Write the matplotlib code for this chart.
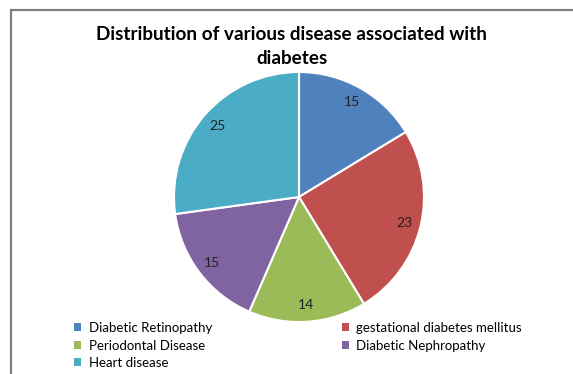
import matplotlib.pyplot as plt
from matplotlib.patches import Patch, Rectangle

# данные
labels = ['Diabetic Retinopathy', 'gestational diabetes mellitus', 'Periodontal Disease',
          'Diabetic Nephropathy', 'Heart disease']
values = [15, 23, 14, 15, 25]
colors = ['#4F81BD', '#C0504D', '#9BBB59', '#8064A2', '#4BACC6']

plt.rcParams['font.family'] = ['Lato', 'DejaVu Sans']

W, H = 573, 374
fig = plt.figure(figsize=(W / 100, H / 100), dpi=100)

# рамка
fig.patches.append(Rectangle((11 / W, -0.1), 1.1, 1 - 10 / H + 0.1, transform=fig.transFigure,
                             fill=False, edgecolor='#7f7f7f', linewidth=1.6))

# круговая диаграмма
cx, cy, r = 299, 197, 125
ax = fig.add_axes([(cx - r) / W, (H - cy - r) / H, 2 * r / W, 2 * r / H])
wedges, texts = ax.pie(values, colors=colors, startangle=90, counterclock=False,
                       labels=[str(v) for v in values], labeldistance=0.87,
                       wedgeprops={'edgecolor': 'white', 'linewidth': 1.5},
                       textprops={'fontsize': 10, 'color': '#222222'})
for t in texts:
    t.set_ha('center')
    t.set_va('center')
ax.set_xlim(-1, 1)
ax.set_ylim(-1, 1)
ax.axis('off')

fig.text(292 / W, 1 - 47 / H, 'Distribution of various disease associated with\ndiabetes',
         ha='center', va='center', fontsize=13.6, fontweight='bold', linespacing=1.5)

# легенда (порядок по строкам как в Excel)
order = [0, 2, 4, 1, 3]
handles = [Patch(facecolor=colors[i], edgecolor='none') for i in order]
fig.legend(handles, [labels[i] for i in order], ncol=2, frameon=False,
           loc='upper left', bbox_to_anchor=(74 / W, 1 - 322 / H),
           fontsize=9.5, handlelength=0.55, handleheight=0.55, handletextpad=0.55,
           labelspacing=0.42, columnspacing=9.85, borderaxespad=0, borderpad=0)

fig.savefig('out.png', dpi=100)
